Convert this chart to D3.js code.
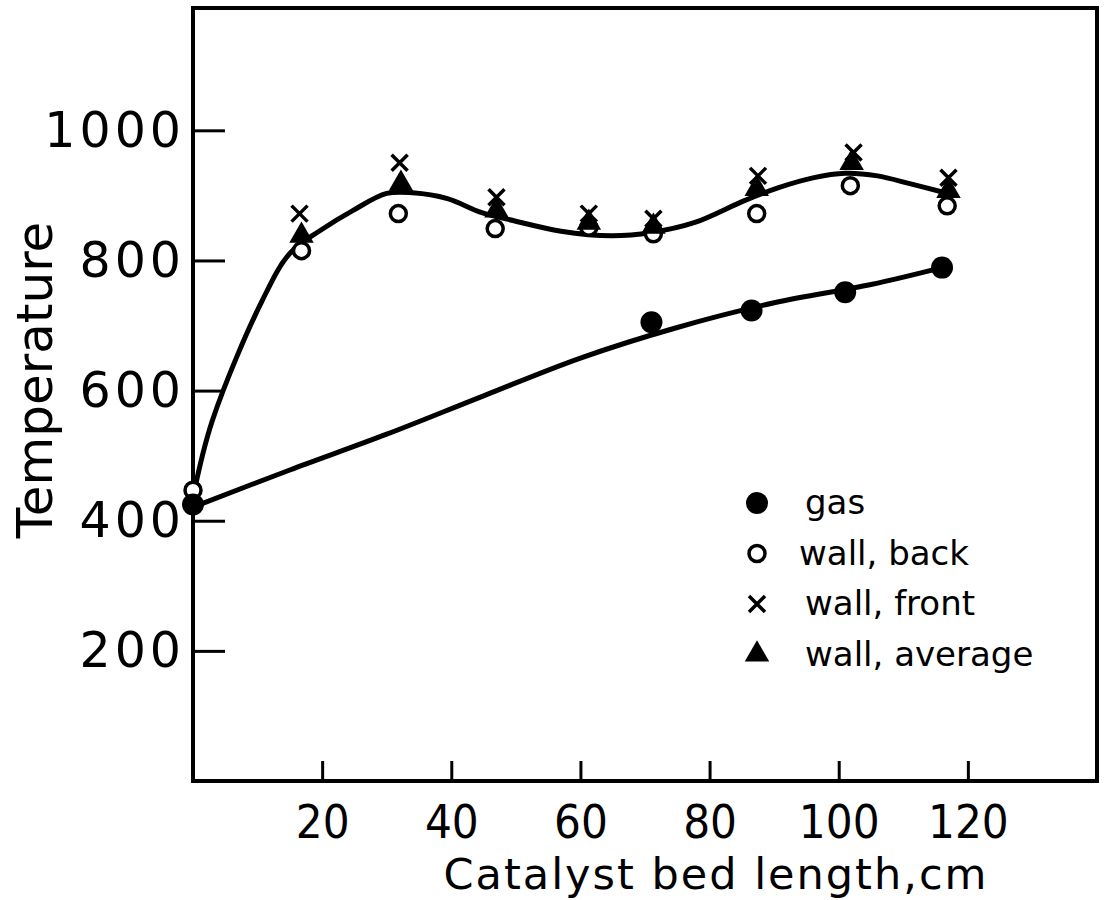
<!DOCTYPE html>
<html>
<head>
<meta charset="utf-8">
<script src="https://cdn.jsdelivr.net/npm/d3@7"></script>
<style>
  body { margin: 0; background: #fff; }
  svg { display: block; }
  text { fill: #000; }
</style>
</head>
<body>
<svg id="chart" width="1112" height="900"></svg>
<script>
// values
var gasX = [0, 71, 86.5, 101, 116]
var gasY = [425, 705, 723, 751, 789]

var wallX = [0, 16.8, 31.8, 46.8, 61.3, 71.3, 87.3, 101.8, 116.8]
var backY = [447, 815, 872, 849, 851, 841, 872, 915, 884]

var frontX = [16.5, 32, 47, 61.3, 71.3, 87.5, 102.3, 117]
var frontY = [872, 950, 897, 872, 864, 930, 966, 927]

var avgX = [16.8, 32.2, 47, 61.3, 71.3, 87.3, 102, 117]
var avgY = [838, 918, 877, 858, 852, 910, 950, 907]

// hand drawn fitted curves
var wallCurveX = [0, 3, 10.7, 15, 19.7, 24.8, 30, 34, 39.4, 44.6, 49.7, 57, 64.8, 71, 77.6, 85.4, 90.7, 96, 101, 106, 111, 116.5]
var wallCurveY = [436, 554, 738, 811, 846, 877, 903, 904, 895, 874, 861, 845, 838, 843, 858, 892, 912, 927, 934, 930, 918, 904]
var gasCurveX = [0, 15, 30, 45, 60, 75, 90, 105, 116]
var gasCurveY = [421, 478, 533, 592, 650, 697, 735, 763, 789]

var xTicks = [20, 40, 60, 80, 100, 120]
var yTicks = [200, 400, 600, 800, 1000]
var legendLabels = ["gas", "wall, back", "wall, front", "wall, average"]

var svg = d3.select("#chart")
var x = d3.scaleLinear().domain([0, 140]).range([193, 1097])
var y = d3.scaleLinear().domain([0, 1188]).range([781, 8])

// axes: ticks point inward
var xAxis = d3.axisBottom(x).tickValues(xTicks).tickSizeInner(-20).tickSizeOuter(0).tickPadding(24).tickFormat(d => d)
var yAxis = d3.axisLeft(y).tickValues(yTicks).tickSizeInner(-32).tickSizeOuter(0).tickPadding(8).tickFormat(d => d)

var gx = svg.append("g").attr("transform", "translate(0," + y(0) + ")").call(xAxis)
gx.select(".domain").remove()
gx.selectAll(".tick line").attr("stroke", "#000").attr("stroke-width", 3)
gx.selectAll(".tick text")
  .attr("font-family", "DejaVu Sans Condensed, DejaVu Sans")
  .attr("font-size", 47).attr("fill", "#000")

var gy = svg.append("g").attr("transform", "translate(" + x(0) + ",0)").call(yAxis)
gy.select(".domain").remove()
gy.selectAll(".tick line").attr("stroke", "#000").attr("stroke-width", 3)
gy.selectAll(".tick text")
  .attr("font-family", "DejaVu Sans").attr("font-size", 49)
  .attr("letter-spacing", 4).attr("fill", "#000")

// frame
svg.append("rect")
  .attr("x", x(0)).attr("y", y(1188))
  .attr("width", x(140) - x(0)).attr("height", y(0) - y(1188))
  .attr("fill", "none").attr("stroke", "#000").attr("stroke-width", 4)

// axis titles
svg.append("text")
  .attr("transform", "translate(52,380) rotate(-90)")
  .attr("text-anchor", "middle")
  .attr("font-family", "DejaVu Sans").attr("font-size", 50)
  .text("Temperature")

svg.append("text")
  .attr("x", 716).attr("y", 889)
  .attr("text-anchor", "middle")
  .attr("font-family", "DejaVu Sans").attr("font-size", 43)
  .attr("letter-spacing", 2)
  .text("Catalyst bed length,cm")

// curves
var line = d3.line().x(d => x(d[0])).y(d => y(d[1])).curve(d3.curveCatmullRom)

svg.append("path")
  .datum(wallCurveX.map((v, i) => [v, wallCurveY[i]]))
  .attr("d", line).attr("fill", "none").attr("stroke", "#000").attr("stroke-width", 5)

svg.append("path")
  .datum(gasCurveX.map((v, i) => [v, gasCurveY[i]]))
  .attr("d", line).attr("fill", "none").attr("stroke", "#000").attr("stroke-width", 5)

// marker helpers
function drawDot(g, cx, cy) {
  g.append("circle").attr("cx", cx).attr("cy", cy).attr("r", 11).attr("fill", "#000")
}
function drawRing(g, cx, cy) {
  g.append("circle").attr("cx", cx).attr("cy", cy).attr("r", 8)
    .attr("fill", "#fff").attr("stroke", "#000").attr("stroke-width", 3.5)
}
function drawCross(g, cx, cy) {
  var s = 8
  g.append("path")
    .attr("d", "M" + (cx - s) + "," + (cy - s) + "L" + (cx + s) + "," + (cy + s) +
               "M" + (cx + s) + "," + (cy - s) + "L" + (cx - s) + "," + (cy + s))
    .attr("stroke", "#000").attr("stroke-width", 3.5).attr("fill", "none")
}
function drawTri(g, cx, cy) {
  g.append("path")
    .attr("d", d3.symbol().type(d3.symbolTriangle).size(260)())
    .attr("transform", "translate(" + cx + "," + cy + ")")
    .attr("fill", "#000")
}

var marks = svg.append("g")
wallX.forEach((v, i) => drawRing(marks, x(v), y(backY[i])))
frontX.forEach((v, i) => drawCross(marks, x(v), y(frontY[i])))
avgX.forEach((v, i) => drawTri(marks, x(v), y(avgY[i])))
gasX.forEach((v, i) => drawDot(marks, x(v), y(gasY[i])))

// legend
var drawers = [drawDot, drawRing, drawCross, drawTri]
var legend = svg.append("g").attr("transform", "translate(757,503)")
legendLabels.forEach((lab, i) => {
  var ly = i * 50.5
  drawers[i](legend, 0, ly)
  legend.append("text")
    .attr("x", i == 1 ? 42 : 48).attr("y", ly + 11)
    .attr("font-family", "DejaVu Sans").attr("font-size", 34)
    .text(lab)
})
</script>
</body>
</html>
